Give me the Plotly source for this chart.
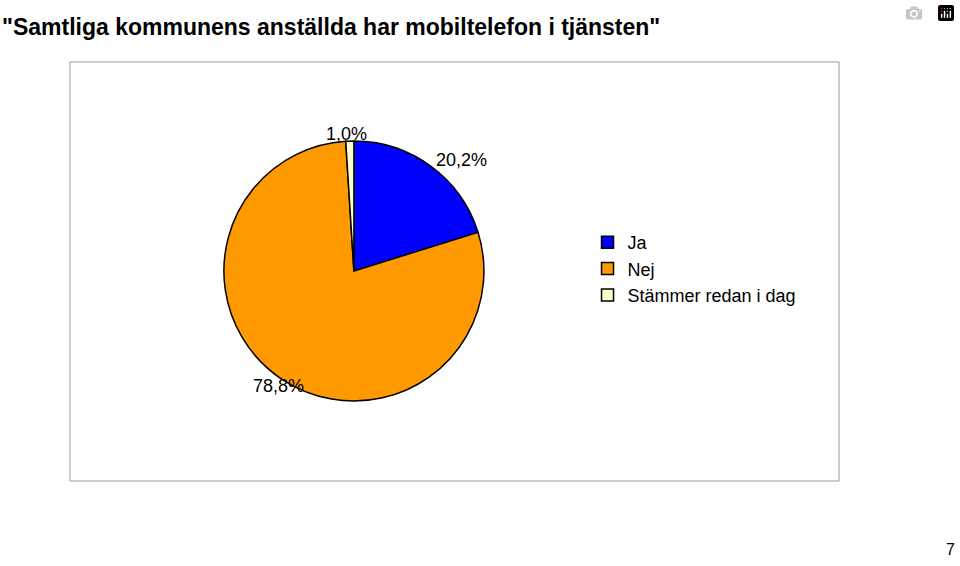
import plotly.graph_objects as go

categories = ["Ja", "Nej", "Stämmer redan i dag"]
values = [20.2, 78.8, 1.0]
labels = ["20,2%", "78,8%", "1,0%"]
colors = ["#0000FF", "#FF9900", "#FFFFCC"]

fig = go.Figure(go.Pie(
    labels=categories, values=values, sort=False, direction="clockwise", rotation=0,
    marker=dict(colors=colors, line=dict(color="black", width=1.5)),
    textinfo="none", hoverinfo="none",
    domain=dict(x=[0.2331, 0.5042], y=[0.2915, 0.7509]),
))

label_pos = [(461, 148), (251, 398), (346, 122)]
for t, (px, py) in zip(labels, label_pos):
    fig.add_annotation(x=px/960, y=1-py/566, xref="paper", yref="paper", text=t,
                       showarrow=False, font=dict(size=18, color="black"))

fig.add_shape(type="rect", xref="paper", yref="paper", x0=70/960, x1=839/960,
              y0=1-481/566, y1=1-62/566, line=dict(color="#999999", width=1))
fig.add_annotation(x=0, y=1-12/566, xref="paper", yref="paper", xanchor="left",
                   text="<b>\"Samtliga kommunens anställda har mobiltelefon i tjänsten\"</b>",
                   showarrow=False, font=dict(size=23, color="black"))
fig.add_annotation(x=957/960, y=1-560/566, xref="paper", yref="paper", xanchor="right",
                   text="7", showarrow=False, font=dict(size=16, color="black"))

fig.update_layout(
    width=960, height=566, margin=dict(l=0, r=0, t=0, b=0),
    paper_bgcolor="white", plot_bgcolor="white",
    font=dict(family="Liberation Sans, Arial", size=18, color="black"),
    legend=dict(x=0.612, y=1-224/566, xanchor="left", yanchor="top",
                font=dict(size=18), tracegroupgap=0, itemwidth=30),
)
fig.write_html("out.html")
with open("out.html", encoding="utf-8") as f:
    html = f.read()
html = html.replace("<body>", '<body style="margin:0;overflow:hidden">', 1)
with open("out.html", "w", encoding="utf-8") as f:
    f.write(html)
